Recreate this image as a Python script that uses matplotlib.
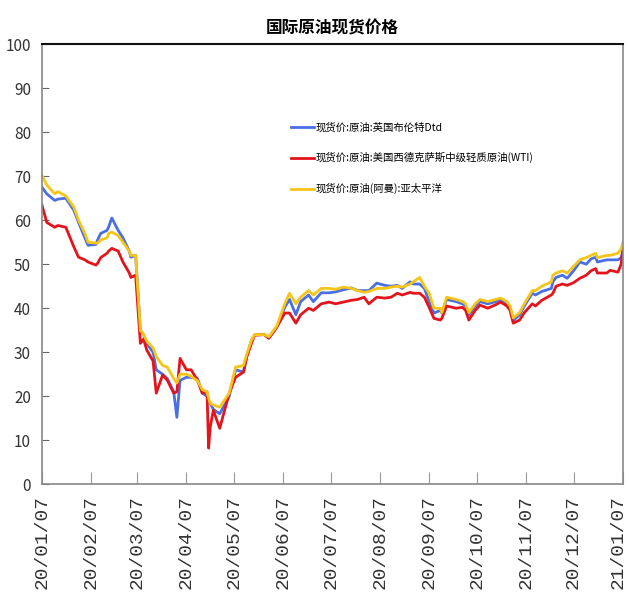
import numpy as np
import pandas as pd
from matplotlib import pyplot as plt
import matplotlib.dates as mdates
import matplotlib.transforms as mtransforms

plt.rcParams['font.family'] = ['Noto Sans CJK SC', 'DejaVu Sans']

# 数据: 日期与三个现货价序列
dates = ['2020-01-07', '2020-01-10', '2020-01-15', '2020-01-17', '2020-01-22', '2020-01-27',
         '2020-01-30', '2020-02-03', '2020-02-05', '2020-02-10', '2020-02-11', '2020-02-13',
         '2020-02-17', '2020-02-18', '2020-02-20', '2020-02-24', '2020-02-27', '2020-03-02',
         '2020-03-03', '2020-03-06', '2020-03-09', '2020-03-11', '2020-03-13', '2020-03-17',
         '2020-03-19', '2020-03-23', '2020-03-26', '2020-03-30', '2020-04-01', '2020-04-03',
         '2020-04-07', '2020-04-10', '2020-04-14', '2020-04-17', '2020-04-20', '2020-04-21',
         '2020-04-22', '2020-04-24', '2020-04-28', '2020-05-04', '2020-05-08', '2020-05-13',
         '2020-05-15', '2020-05-18', '2020-05-20', '2020-05-26', '2020-05-29', '2020-06-03',
         '2020-06-08', '2020-06-11', '2020-06-15', '2020-06-18', '2020-06-23', '2020-06-26',
         '2020-07-01', '2020-07-06', '2020-07-10', '2020-07-15', '2020-07-20', '2020-07-24',
         '2020-07-28', '2020-07-31', '2020-08-05', '2020-08-10', '2020-08-14', '2020-08-18',
         '2020-08-21', '2020-08-26', '2020-08-28', '2020-09-01', '2020-09-04', '2020-09-07',
         '2020-09-10', '2020-09-14', '2020-09-15', '2020-09-18', '2020-09-24', '2020-09-28',
         '2020-09-30', '2020-10-02', '2020-10-06', '2020-10-09', '2020-10-14', '2020-10-19',
         '2020-10-22', '2020-10-26', '2020-10-28', '2020-10-30', '2020-11-03', '2020-11-06',
         '2020-11-11', '2020-11-13', '2020-11-17', '2020-11-23', '2020-11-24', '2020-11-26',
         '2020-11-30', '2020-12-03', '2020-12-07', '2020-12-11', '2020-12-15', '2020-12-18',
         '2020-12-21', '2020-12-22', '2020-12-28', '2020-12-30', '2021-01-04', '2021-01-06',
         '2021-01-07']

brent = [67.5, 66.0, 64.5, 64.8, 65.0, 62.3, 59.5, 56.0, 54.3, 54.5, 55.5, 57.0,
         57.7, 58.5, 60.5, 57.7, 56.0, 53.0, 51.6, 52.0, 35.0, 34.0, 32.0, 30.0,
         26.0, 25.0, 24.0, 21.0, 15.2, 23.6, 24.3, 24.3, 24.0, 20.7, 20.0, 19.0,
         18.4, 17.0, 16.0, 20.0, 26.0, 25.5, 29.0, 32.7, 33.9, 34.0, 33.2, 35.7,
         40.2, 42.0, 38.5, 41.5, 43.0, 41.5, 43.5, 43.5, 43.7, 44.2, 44.6, 44.0,
         44.0, 44.0, 45.7, 45.2, 45.0, 45.2, 44.5, 46.0, 45.5, 45.5, 44.5, 41.5,
         38.9, 39.5, 38.9, 42.0, 41.5, 41.0, 40.5, 38.5, 40.5, 41.5, 41.0, 41.5,
         42.0, 41.0, 40.0, 37.2, 38.5, 40.5, 43.4, 43.0, 43.8, 44.5, 46.0, 47.0,
         47.5, 46.8, 48.5, 50.5, 50.0, 51.2, 51.6, 50.5, 51.0, 51.0, 51.0, 51.5,
         52.5]

wti = [63.4, 59.5, 58.4, 58.8, 58.4, 54.0, 51.6, 51.0, 50.5, 49.8, 50.2, 51.5,
       52.5, 53.0, 53.6, 53.0, 50.5, 48.0, 47.0, 47.5, 32.0, 33.0, 30.5, 28.0,
       20.7, 24.8, 23.6, 20.7, 21.0, 28.6, 26.0, 26.0, 23.6, 20.7, 21.0, 8.2,
       13.0, 16.8, 12.7, 20.7, 24.3, 25.5, 28.9, 32.0, 33.9, 34.0, 33.2, 35.7,
       38.9, 38.9, 36.6, 38.5, 40.0, 39.5, 41.0, 41.4, 41.0, 41.4, 41.8, 42.0,
       42.5, 41.0, 42.5, 42.3, 42.5, 43.4, 43.0, 43.6, 43.4, 43.4, 42.5, 40.2,
       37.7, 37.3, 37.7, 40.5, 40.0, 40.2, 39.5, 37.3, 39.5, 40.7, 40.0, 40.8,
       41.4, 40.5, 39.5, 36.6, 37.3, 39.0, 41.0, 40.5, 41.8, 43.0, 43.4, 45.0,
       45.5, 45.2, 45.8, 46.8, 47.5, 48.5, 49.0, 48.0, 48.0, 48.6, 48.2, 50.0,
       53.6]

oman = [70.2, 68.0, 66.0, 66.5, 65.5, 63.0, 60.0, 57.0, 55.0, 54.8, 54.8, 55.5,
        56.0, 57.0, 57.3, 56.5, 55.0, 53.0, 52.0, 52.0, 35.0, 34.0, 32.5, 31.0,
        29.0, 27.0, 26.6, 24.0, 23.0, 25.0, 25.0, 24.5, 23.5, 21.5, 21.0, 19.5,
        18.4, 18.0, 17.5, 20.7, 26.6, 27.0, 29.5, 32.7, 34.0, 34.0, 33.5, 36.0,
        41.0, 43.4, 41.0, 42.5, 44.0, 43.0, 44.5, 44.5, 44.3, 44.8, 44.5, 44.0,
        43.6, 43.8, 44.5, 44.5, 44.8, 45.0, 44.8, 45.5, 46.0, 47.0, 45.0, 43.4,
        40.0, 40.0, 39.0, 42.5, 42.0, 41.5, 41.0, 39.0, 41.0, 42.0, 41.5, 42.0,
        42.3, 41.5, 40.5, 37.8, 39.0, 41.0, 44.0, 44.0, 45.0, 46.0, 47.5, 48.0,
        48.5, 48.0, 49.5, 51.0, 51.5, 52.0, 52.5, 51.5, 52.0, 52.0, 52.5, 53.5,
        54.8]

labels = ['现货价:原油:英国布伦特Dtd',
          '现货价:原油:美国西德克萨斯中级轻质原油(WTI)',
          '现货价:原油(阿曼):亚太平洋']

x = pd.to_datetime(dates)
tick_dates = pd.date_range('2020-01-01', '2021-01-01', freq='MS') + pd.Timedelta(days=6)

fig = plt.figure(figsize=(6.29, 6.06), dpi=100)
ax = fig.add_axes([0.0668, 0.201, 0.9232, 0.726])

ax.plot(x, brent, color='#4a6fe3', lw=2, label=labels[0])
ax.plot(x, wti, color='#e3141c', lw=2, label=labels[1])
ax.plot(x, oman, color='#f5c518', lw=2, label=labels[2])

ax.set_xlim(pd.Timestamp('2020-01-07'), pd.Timestamp('2021-01-07'))
ax.set_ylim(0, 100)
ax.set_yticks(np.arange(0, 101, 10))
ax.set_xticks(tick_dates)
ax.xaxis.set_major_formatter(mdates.DateFormatter('%y/%m/%d'))

ax.tick_params(axis='x', direction='in', length=9, color='#999999', pad=8)
ax.tick_params(axis='y', direction='in', length=5, color='#666666', pad=8)
xlabs = ax.get_xticklabels()
for lab in xlabs:
    lab.set_rotation(90)
    lab.set_family('Liberation Mono')
    lab.set_fontsize(14)
    lab.set_color('#333333')
# last label sits at the figure edge; nudge it inside
shift = mtransforms.ScaledTranslation(-5 / 100, 0, fig.dpi_scale_trans)
xlabs[-1].set_transform(xlabs[-1].get_transform() + shift)
for lab in ax.get_yticklabels():
    lab.set_family(['Liberation Sans Narrow', 'Noto Sans CJK SC'])
    lab.set_fontsize(11)
    lab.set_color('#333333')

for s in ['left', 'bottom', 'right']:
    ax.spines[s].set_color('#888888')
    ax.spines[s].set_linewidth(1.2)
ax.spines['top'].set_color('#111111')
ax.spines['top'].set_linewidth(1.5)

ax.set_title('国际原油现货价格', fontsize=12, fontweight='bold', pad=8)

ax.legend(loc='upper left', bbox_to_anchor=(0.4286, 0.823), frameon=False,
          fontsize=7.5, handlelength=2.2, handletextpad=0.2, labelspacing=1.9,
          borderpad=0, borderaxespad=0)

fig.savefig('out.png', dpi=100)
